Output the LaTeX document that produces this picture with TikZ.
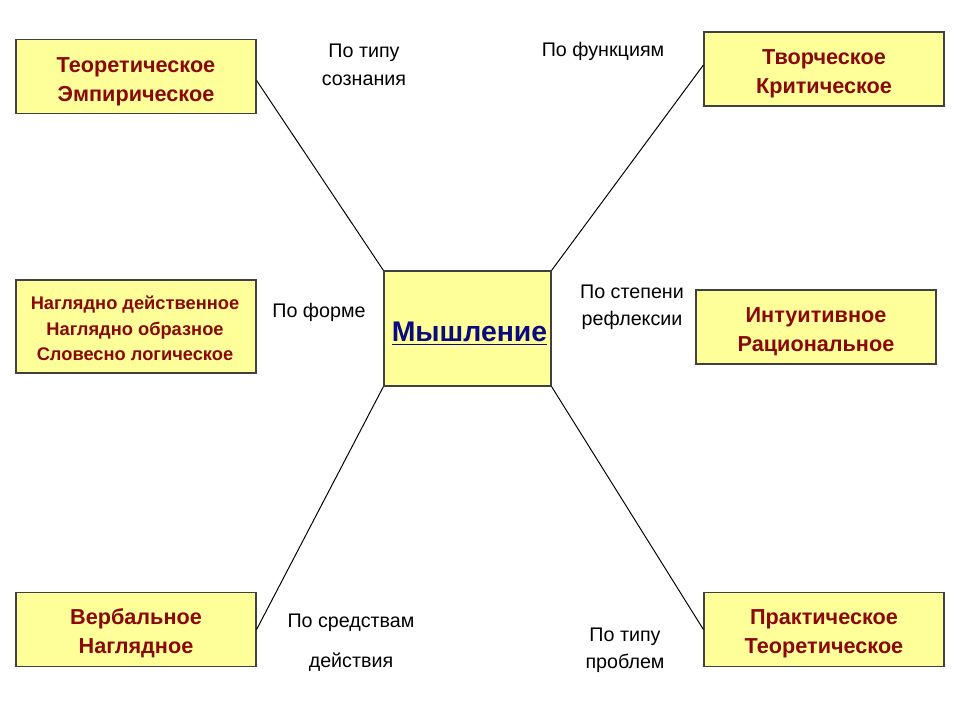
\documentclass[tikz,border=0pt]{standalone}
\usepackage{fontspec}
\setmainfont{Liberation Sans}
\usetikzlibrary{calc, positioning}

\definecolor{boxfill}{HTML}{FFFF99}
\definecolor{boxtext}{HTML}{8A0808}
\definecolor{maintext}{HTML}{0B0B80}

\tikzset{
  kindbox/.style={draw=black!75, line width=0.8pt, fill=boxfill,
    minimum width=6cm, minimum height=1.85cm, inner sep=0pt},
  kindtext/.style={align=center, inner sep=0pt, text=boxtext,
    font=\fontsize{15.4}{20.6}\selectfont\bfseries},
  kindlabel/.style={align=center, inner sep=0pt,
    font=\fontsize{14}{19.5}\selectfont},
  link/.style={line width=0.7pt, black}
}

\begin{document}
\begin{tikzpicture}[x=0.025cm, y=-0.025cm]
\useasboundingbox (0,0) rectangle (960,720);

% centre
\node[kindbox, minimum width=4.175cm, minimum height=2.875cm] (think) at (467.5,328.5) {};
\node[kindtext, text=maintext, font=\fontsize{20.2}{24}\selectfont\bfseries]
  (thinkt) at ($(think)+(2,5)$) {\underline{Мышление}};

% kinds
\node[kindbox] (consc) at (136,76.5) {};
\node[kindtext] (consct) at ($(consc)+(0,5)$) {Теоретическое\\Эмпирическое};
\node[kindbox] (func) at (824,69) {};
\node[kindtext] (funct) at ($(func)+(0,5)$) {Творческое\\Критическое};
\node[kindbox, minimum height=2.325cm] (form) at (136,326.5) {};
\node[kindtext, font=\fontsize{13}{18.2}\selectfont\bfseries]
  (formt) at ($(form)+(-1,2)$) {Наглядно действенное\\Наглядно образное\\Словесно логическое};
\node[kindbox] (refl) at (816,327) {};
\node[kindtext] (reflt) at ($(refl)+(0,5)$) {Интуитивное\\Рациональное};
\node[kindbox] (means) at (136,629.5) {};
\node[kindtext] (meanst) at ($(means)+(0,4)$) {Вербальное\\Наглядное};
\node[kindbox] (probl) at (824,629.5) {};
\node[kindtext] (problt) at ($(probl)+(0,4)$) {Практическое\\Теоретическое};

% criteria
\node[kindlabel] (lconsc) at (364,65) {По типу\\сознания};
\node[kindlabel] (lfunc) at (603,51) {По функциям};
\node[kindlabel] (lform) at (319,312) {По форме};
\node[kindlabel] (lrefl) at (632,307) {По степени\\рефлексии};
\node[kindlabel] (lmeans) at (351,643) {По средствам\\[9pt]действия};
\node[kindlabel] (lprobl) at (625,650) {По типу\\проблем};

\draw[link] (think.north west) -- ($(consc.east)+(0,4)$);
\draw[link] (think.north east) -- ($(func.west)+(0,-4)$);
\draw[link] (think.south west) -- (means.east);
\draw[link] (think.south east) -- (probl.west);
\end{tikzpicture}
\end{document}
